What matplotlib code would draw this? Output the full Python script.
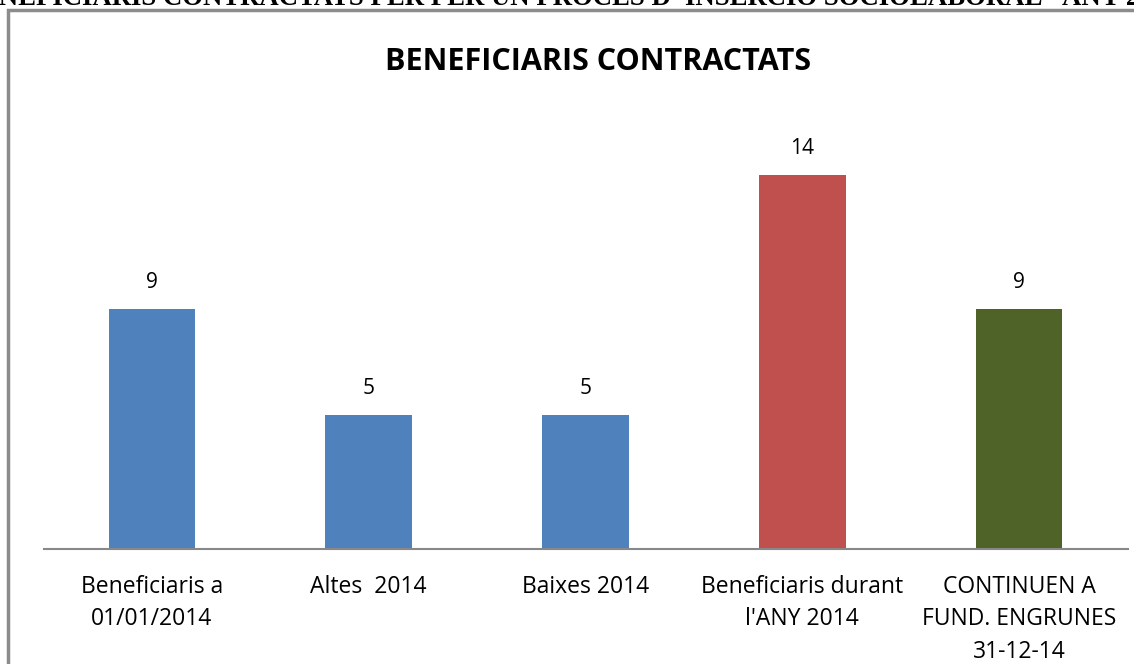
import matplotlib
matplotlib.use("Agg")
import matplotlib.pyplot as plt
from matplotlib.patches import Rectangle

# data
categories = ["Beneficiaris a\n01/01/2014", "Altes  2014", "Baixes 2014",
              "Beneficiaris durant\nl'ANY 2014", "CONTINUEN A\nFUND. ENGRUNES\n31-12-14"]
values = [9, 5, 5, 14, 9]
colors = ["#4F81BD", "#4F81BD", "#4F81BD", "#C0504D", "#4F6228"]

title = "BENEFICIARIS CONTRACTATS"
header = "BENEFICIARIS CONTRACTATS PER PER UN PROCES D' INSERCIO SOCIOLABORAL - ANY 2014"

W, H = 1134, 664
fig = plt.figure(figsize=(W / 100, H / 100), dpi=100)
plt.rcParams['font.family'] = ['Open Sans', 'DejaVu Sans']

# cut-off header from the document page
fig.text(-37 / W, 1 - 5 / H, header, fontsize=19.3, fontweight='bold',
         family='Liberation Serif', ha='left', va='baseline')

# chart frame (grey border, open at right/bottom)
fig.patches.append(Rectangle((8 / W, -0.1), 1.2, 1 - 10 / H + 0.1,
                             transform=fig.transFigure, fill=False,
                             edgecolor='#8c8c8c', linewidth=2.5))

# plot area
ax = fig.add_axes([43.5 / W, 1 - 549 / H, 1084 / W, (549 - 175) / H / 14 * 16])
x = range(len(values))
bars = ax.bar(x, values, width=0.4, color=colors)
ax.set_xlim(-0.5, len(values) - 0.5)
ax.set_ylim(0, 16)

for b, v in zip(bars, values):
    ax.text(b.get_x() + b.get_width() / 2, v + 0.6, str(v),
            ha='center', va='bottom', fontsize=15)

ax.set_xticks(list(x))
ax.set_xticklabels(categories, fontsize=16.5, linespacing=1.45)
ax.tick_params(axis='x', length=0, pad=19)
ax.set_yticks([])
for s in ['top', 'right', 'left']:
    ax.spines[s].set_visible(False)
ax.spines['bottom'].set_color('#888888')
ax.spines['bottom'].set_linewidth(1.5)

fig.text(598 / W, 1 - 62 / H, title, fontsize=22, fontweight='bold',
         ha='center', va='center')

fig.savefig("out.png", dpi=100)
